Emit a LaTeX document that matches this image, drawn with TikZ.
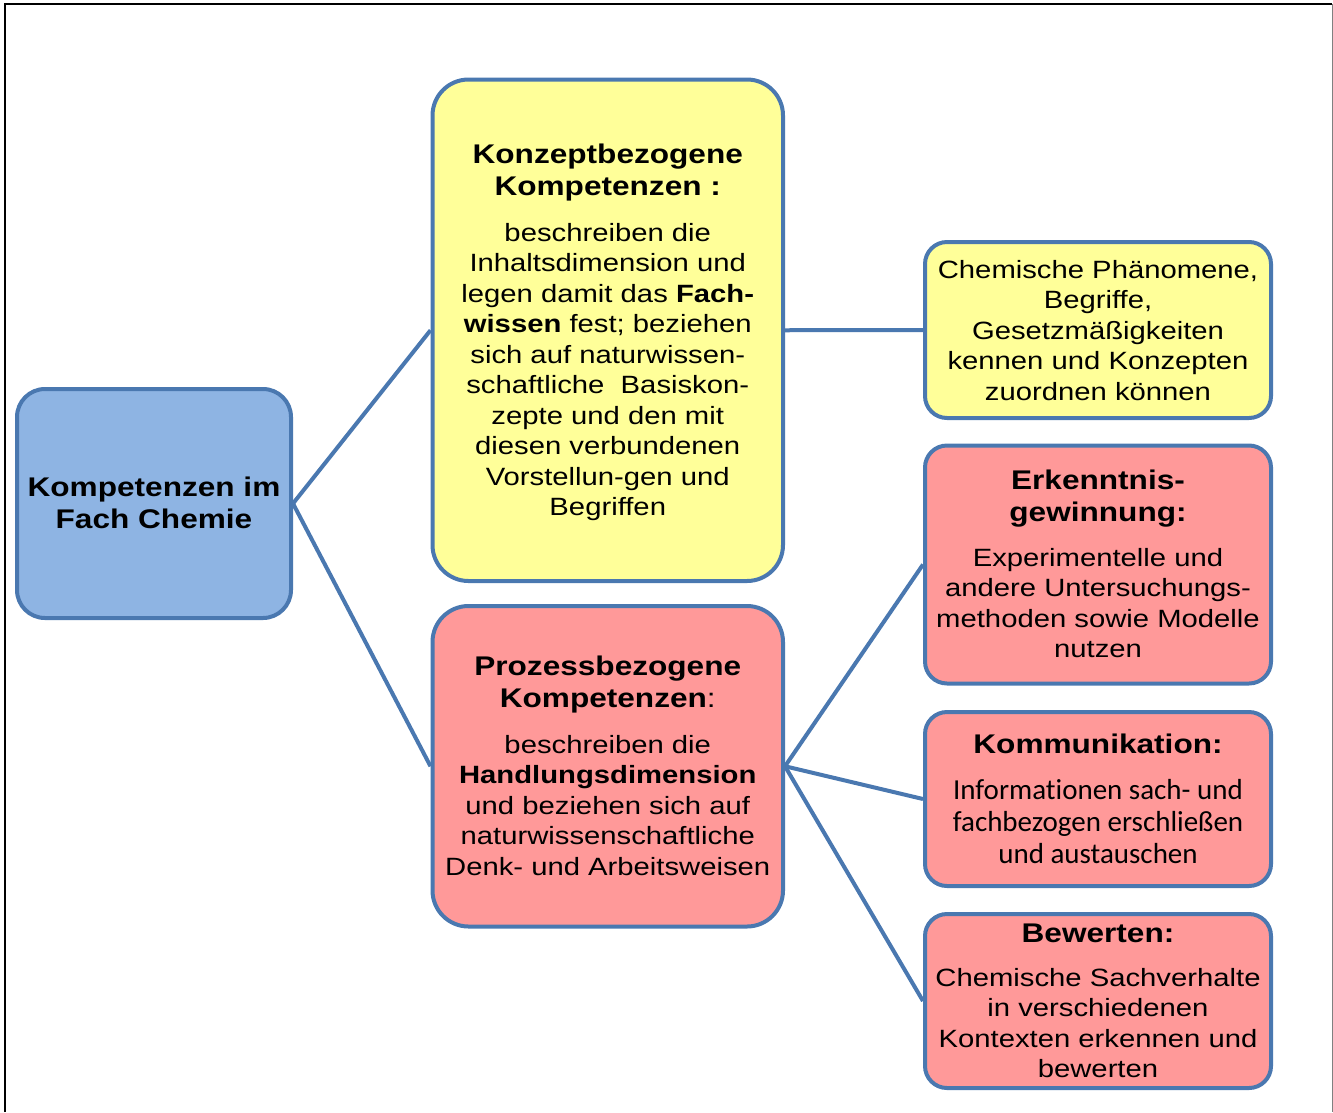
\documentclass[tikz,border=0pt]{standalone}
\usepackage{fontspec}
\setmainfont{Liberation Sans}[FakeStretch=1.17]
\newfontfamily\calib{Carlito}[Ligatures=NoCommon]
\definecolor{bord}{RGB}{74,120,176}
\definecolor{rootc}{RGB}{142,180,227}
\definecolor{yelc}{RGB}{255,255,153}
\definecolor{redc}{RGB}{255,153,153}
\newcommand{\sH}{\rule{0pt}{24pt}}
\newcommand{\sD}{\rule[-6pt]{0pt}{6pt}}
\newcommand{\hd}[1]{{\fontsize{27}{30.5}\selectfont\bfseries #1}}
\newcommand{\cb}[1]{{\calib\fontsize{29}{32}\selectfont #1}}
\begin{document}
\begin{tikzpicture}[x=1pt,y=-1pt,
  bx/.style={draw=bord, line width=4pt, rounded corners=#1, align=center, inner sep=0pt,
    font=\fontsize{25}{30.5}\selectfont},
  conn/.style={draw=bord, line width=4pt}]
\useasboundingbox (0,0) rectangle (1333,1112);
\draw[line width=2pt] (5,1112) -- (5,4) -- (1332,4);
\draw[gray, line width=1pt] (1332,4) -- (1332,1112);

\node[bx=28, fill=rootc, minimum width=274pt, minimum height=229pt,
  font=\fontsize{27}{32}\selectfont\bfseries] (root) at (154,503.5)
  {\sH Kompetenzen im\\Fach Chemie\sD};

\node[bx=36, fill=yelc, minimum width=350.5pt, minimum height=501.5pt] (konz) at (607.75,330.25)
  {\sH\hd{Konzeptbezogene}\\[1.5pt]
   \hd{Kompetenzen :}\\[15.5pt]
   beschreiben die\\
   Inhaltsdimension und\\
   legen damit das \textbf{Fach-}\\
   \textbf{wissen} fest; beziehen\\
   sich auf naturwissen-\\
   schaftliche~ Basiskon-\\
   zepte und den mit\\
   diesen verbundenen\\
   Vorstellun-gen und\\
   Begriffen\sD};

\node[bx=36, fill=redc, minimum width=350.5pt, minimum height=320.5pt] (proz) at (607.75,766.25)
  {\sH\hd{Prozessbezogene}\\[1.5pt]
   {\fontsize{27}{30.5}\selectfont\bfseries Kompetenzen\mdseries:}\\[15.5pt]
   beschreiben die\\
   \textbf{Handlungsdimension}\\
   und beziehen sich auf\\
   naturwissenschaftliche\\
   Denk- und Arbeitsweisen\sD};

\node[bx=22, fill=yelc, minimum width=346pt, minimum height=176pt] (phaen) at (1098,330)
  {\sH Chemische Phänomene,\\
   Begriffe,\\
   Gesetzmäßigkeiten\\
   kennen und Konzepten\\
   zuordnen können\sD};

\node[bx=22, fill=redc, minimum width=346pt, minimum height=238pt] (erk) at (1098,564.5)
  {\sH\hd{Erkenntnis-}\\[1.5pt]
   \hd{gewinnung:}\\[14.5pt]
   Experimentelle und\\
   andere Untersuchungs-\\
   methoden sowie Modelle\\
   nutzen\sD};

\node[bx=22, fill=redc, minimum width=346pt, minimum height=174pt,
  font=\fontsize{25}{32}\selectfont] (komm) at (1098,799)
  {\sH\hd{Kommunikation:}\\[14pt]
   \cb{Informationen sach- und}\\
   \cb{fachbezogen erschließen}\\
   \cb{und austauschen}\sD};

\node[bx=22, fill=redc, minimum width=346pt, minimum height=174pt] (bew) at (1098,1001)
  {\sH\hd{Bewerten:}\\[13.5pt]
   Chemische Sachverhalte\\
   in verschiedenen\\
   Kontexten erkennen und\\
   bewerten\sD};

\draw[conn] (root.east) -- (konz.west);
\draw[conn] (root.east) -- (proz.west);
\draw[conn] (konz.east) -- (phaen.west);
\draw[conn] (proz.east) -- (erk.west);
\draw[conn] (proz.east) -- (komm.west);
\draw[conn] (proz.east) -- (bew.west);
\end{tikzpicture}
\end{document}
